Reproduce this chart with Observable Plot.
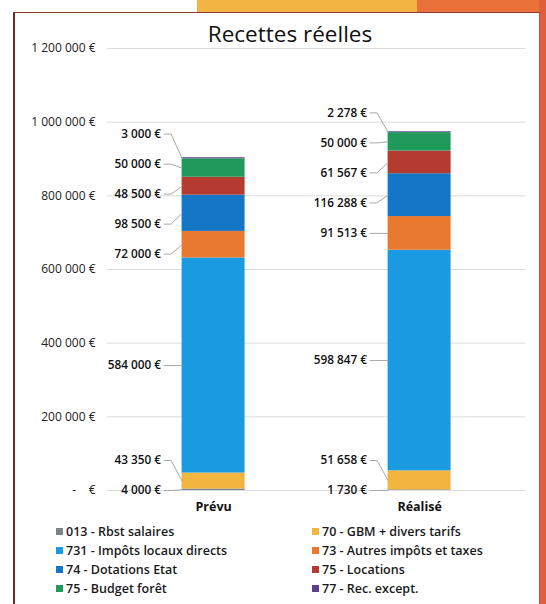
<!DOCTYPE html>
<html>
<head>
<meta charset="utf-8">
<script src="https://cdn.jsdelivr.net/npm/d3@7"></script>
<script src="https://cdn.jsdelivr.net/npm/@observablehq/plot@0.6"></script>
<style>
  body { margin: 0; font-family: "Open Sans", sans-serif; }
  #page { position: relative; width: 546px; height: 604px; overflow: hidden; background: #fff; }
  .abs { position: absolute; }
  #title { left: 170px; top: 18px; width: 240px; text-align: center; font-size: 22.5px; color: #111; }
  #legend { left: 56px; top: 522px; display: grid; grid-template-columns: 256px 220px; grid-auto-rows: 19px; font-size: 12.5px; font-weight: 600; color: #1a1a1a; }
  #legend div { display: flex; align-items: center; white-space: nowrap; }
  #legend span.sw { display: inline-block; width: 7px; height: 7px; margin-right: 3px; }
</style>
</head>
<body>
<div id="page">
  <div class="abs" style="left:197px;top:0;width:220px;height:14px;background:#f2b443"></div>
  <div class="abs" style="left:417px;top:0;width:129px;height:14px;background:#ea713a"></div>
  <div class="abs" style="left:539px;top:0;width:7px;height:604px;background:#df5f3a"></div>
  <div class="abs" style="left:13px;top:12px;width:524px;height:600px;background:#fff;border-left:2px solid #6e2a20;border-top:1px solid #8b3b2b;border-right:1px solid #c44a30"></div>
  <div id="title" class="abs">Recettes réelles</div>
  <div id="chart" class="abs" style="left:0;top:0"></div>
  <div id="legend" class="abs"></div>
</div>
<script>
const categories = ["Prévu", "Réalisé"];
const series = [
  "013 - Rbst salaires",
  "70 - GBM + divers tarifs",
  "731 - Impôts locaux directs",
  "73 - Autres impôts et taxes",
  "74 - Dotations Etat",
  "75 - Locations",
  "75 - Budget forêt",
  "77 - Rec. except."
];
const prevu   = [4000, 43350, 584000, 72000, 98500, 48500, 50000, 3000];
const realise = [1730, 51658, 598847, 91513, 116288, 61567, 50000, 2278];
const colors = ["#7a828c", "#f2b540", "#1a9ae0", "#e8792e", "#1476c6", "#b53a30", "#1f9a5a", "#5b3f8c"];
const yTicks = [0, 200000, 400000, 600000, 800000, 1000000, 1200000];

const values = [prevu, realise];
const yMax = 1200000;
const plotTop = 48, plotBottom = 490;
const pxPerUnitX = 206;          // pixels between the two bar centres
const hw = 31.5 / pxPerUnitX;    // half bar width in x units
const valPerPx = yMax / (plotBottom - plotTop);
const gap = 30 * valPerPx;       // minimum label spacing

const nf = d3.formatLocale({decimal: ",", thousands: "\u00a0", grouping: [3], currency: ["", " €"]}).format(",.0f");
const money = v => nf(v) + "\u00a0€";
const tickFmt = v => v === 0 ? "-\u00a0\u00a0\u00a0\u00a0€" : money(v);

// build segments
const segments = [];
const labels = [];
const leaders = [];
values.forEach((vals, ci) => {
  let cum = 0;
  const centers = [];
  vals.forEach((v, si) => {
    segments.push({cat: ci, series: series[si], y1: cum, y2: cum + v});
    centers.push(cum + v / 2);
    cum += v;
  });
  // de-overlap label positions (centers are ascending)
  let cl = centers.map((c, i) => ({sum: c, n: 1, first: i}));
  const start = k => Math.max(0, k.sum / k.n - (k.n - 1) / 2 * gap);
  let merged = true;
  while (merged) {
    merged = false;
    for (let i = 0; i < cl.length - 1; i++) {
      const a = cl[i], b = cl[i + 1];
      if (start(b) - (start(a) + (a.n - 1) * gap) < gap) {
        a.sum += b.sum; a.n += b.n; cl.splice(i + 1, 1); merged = true; break;
      }
    }
  }
  const pos = [];
  cl.forEach(k => { const s = start(k); for (let j = 0; j < k.n; j++) pos.push(s + j * gap); });
  const xText = ci - hw - 21 / pxPerUnitX;
  vals.forEach((v, si) => {
    labels.push({x: xText, y: pos[si], text: money(v)});
    const id = ci + "-" + si;
    leaders.push({id, x: ci - hw - 18 / pxPerUnitX, y: pos[si]});
    leaders.push({id, x: ci - hw - 11 / pxPerUnitX, y: pos[si]});
    leaders.push({id, x: ci - hw, y: centers[si]});
  });
});

const xMin = -0.515, xMax = 1.515;

const chart = Plot.plot({
  width: 546,
  height: 520,
  marginTop: plotTop,
  marginBottom: 520 - plotBottom,
  marginLeft: 107,
  marginRight: 546 - 107 - (xMax - xMin) * pxPerUnitX,
  style: {fontFamily: "Open Sans", fontSize: "11px", background: "transparent", overflow: "visible"},
  x: {domain: [xMin, xMax], axis: null},
  y: {domain: [0, yMax], axis: null},
  color: {domain: series, range: colors},
  marks: [
    Plot.ruleY(yTicks, {stroke: "#dcdcdc", strokeWidth: 1}),
    Plot.text(yTicks, {x: xMin, y: d => d, text: tickFmt, textAnchor: "end", dx: -12, fill: "#222", fontSize: 12}),
    Plot.rect(segments, {x1: d => d.cat - hw, x2: d => d.cat + hw, y1: "y1", y2: "y2", fill: "series"}),
    Plot.line(leaders, {x: "x", y: "y", z: "id", stroke: "#a8a8a8", strokeWidth: 1}),
    Plot.text(labels, {x: "x", y: "y", text: "text", textAnchor: "end", fill: "#111", fontWeight: 600, fontSize: 11.8}),
    Plot.text(categories, {x: (d, i) => i, y: 0, text: d => d, dy: 16, fill: "#111", fontWeight: 700, fontSize: 12.5})
  ]
});
document.getElementById("chart").appendChild(chart);

const legend = document.getElementById("legend");
series.forEach((s, i) => {
  const row = document.createElement("div");
  const sw = document.createElement("span");
  sw.className = "sw";
  sw.style.background = colors[i];
  row.appendChild(sw);
  row.appendChild(document.createTextNode(s));
  legend.appendChild(row);
});
</script>
</body>
</html>
